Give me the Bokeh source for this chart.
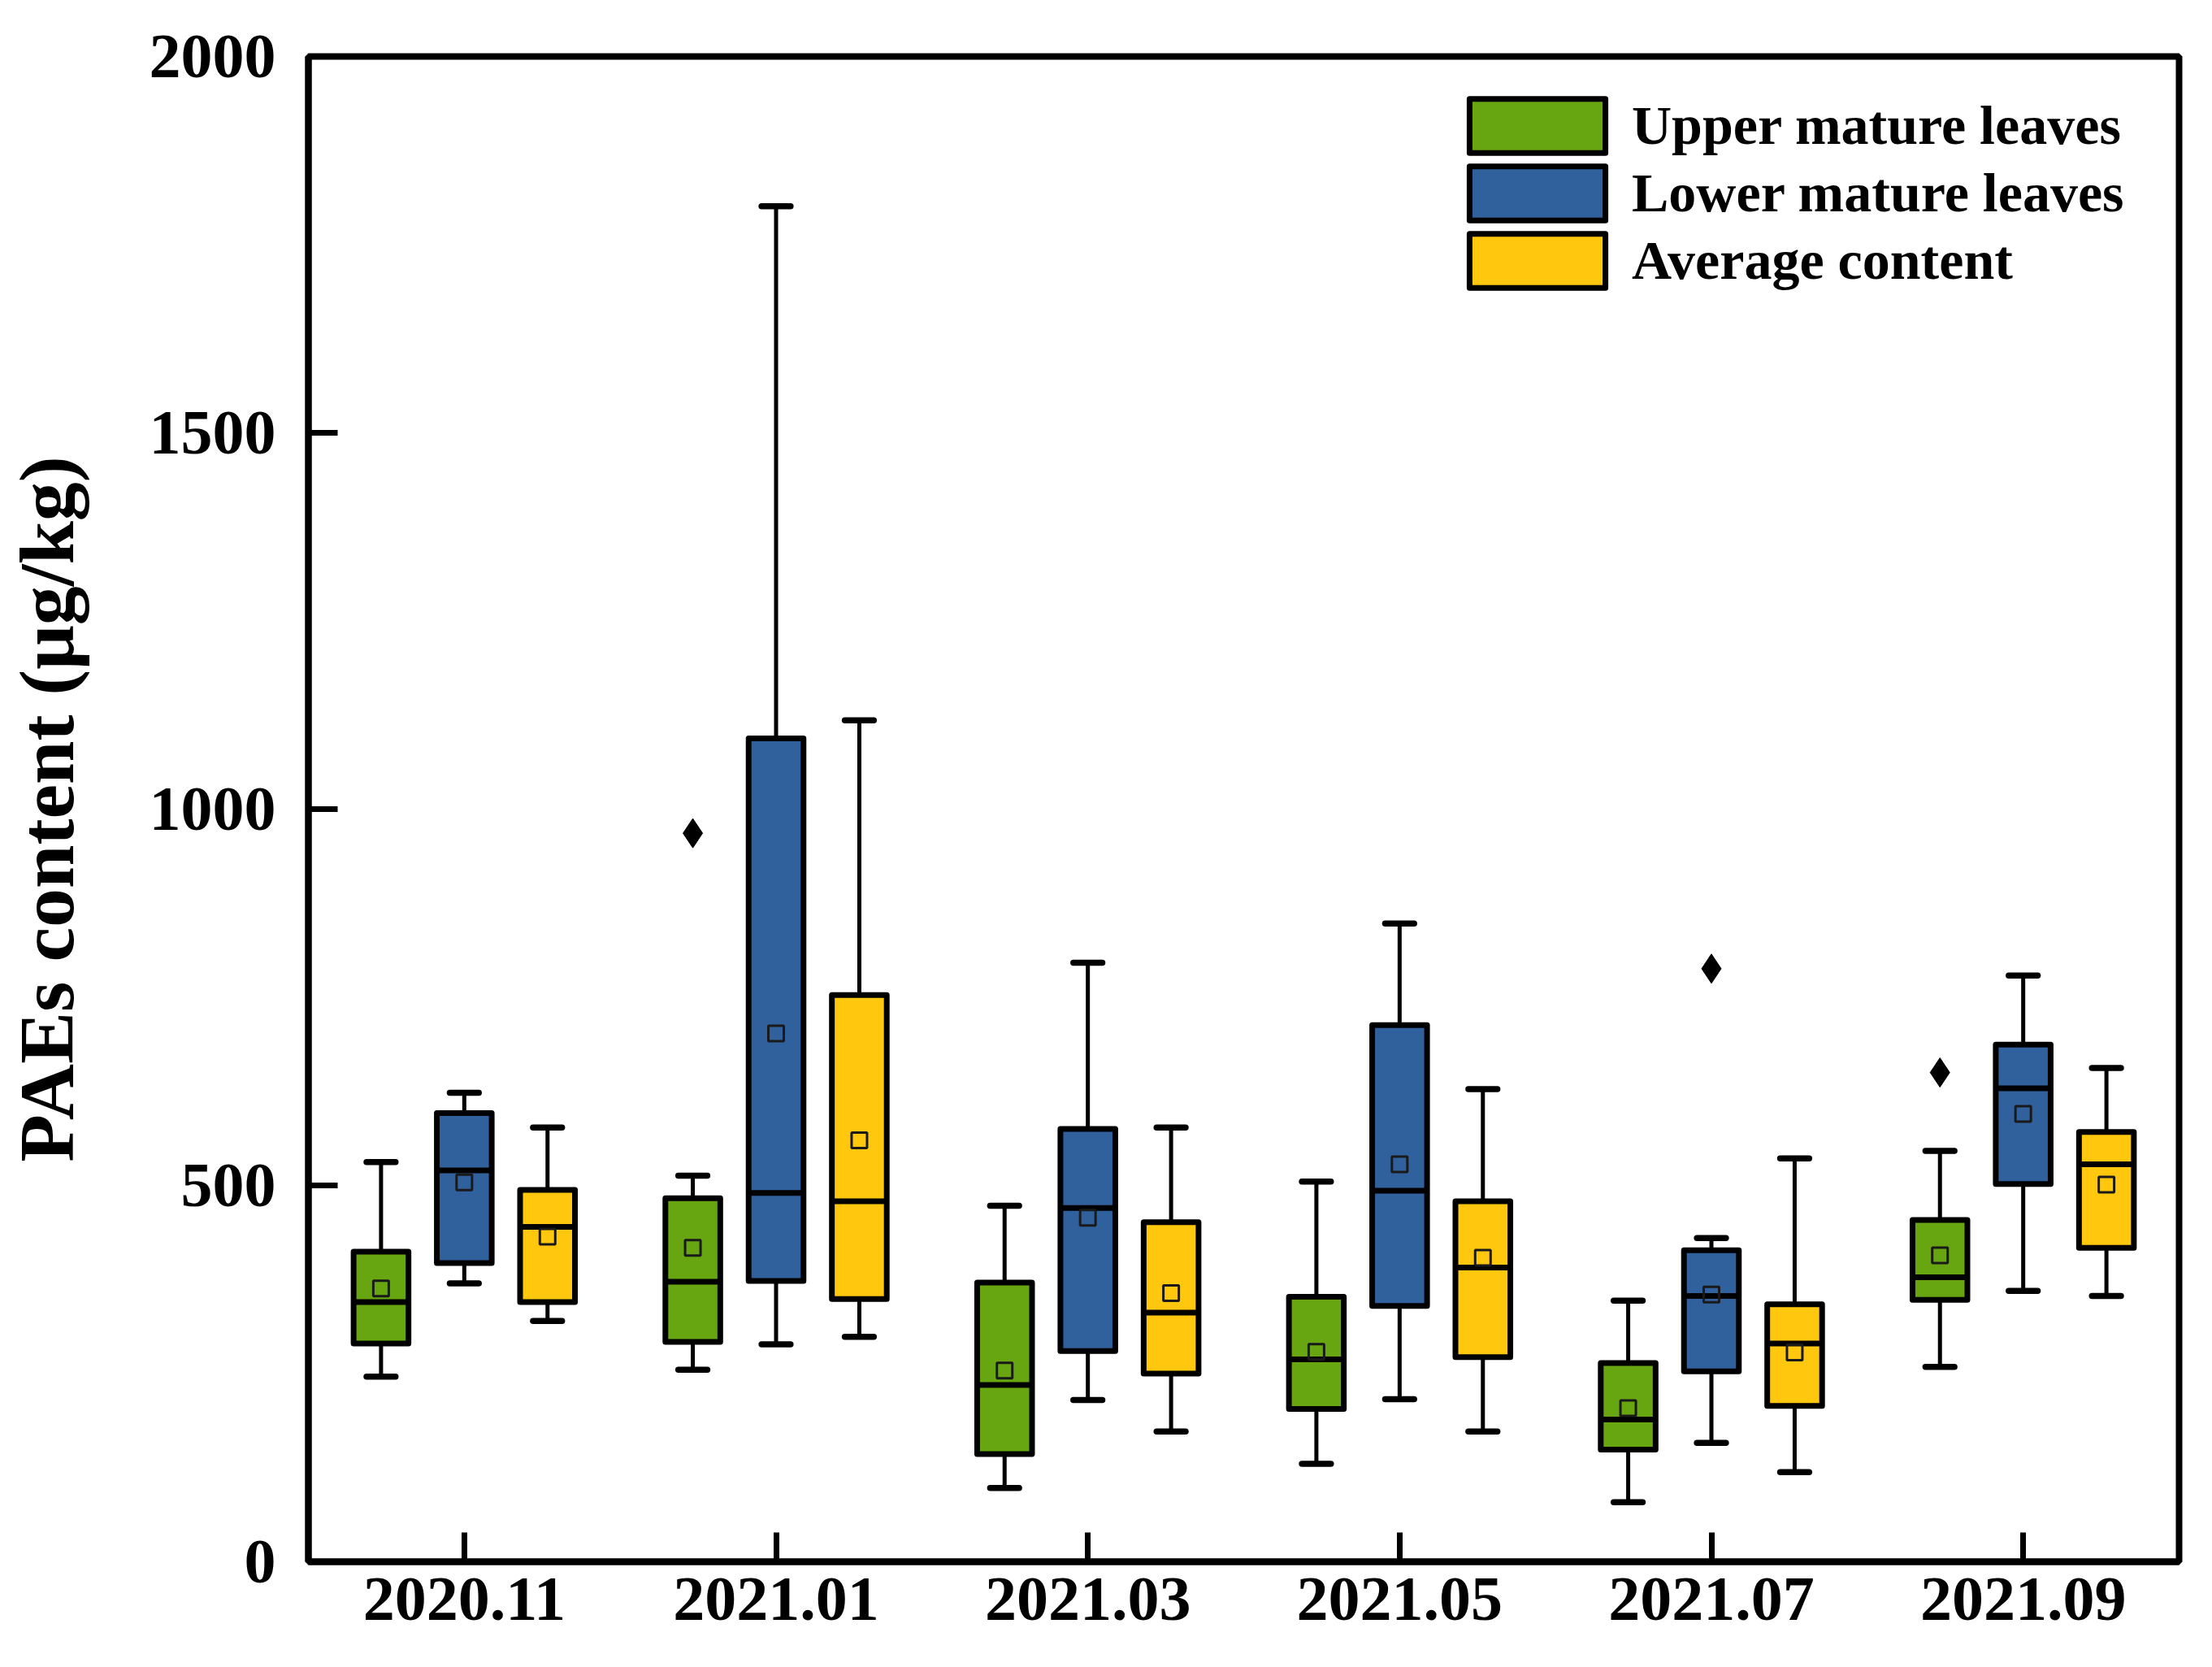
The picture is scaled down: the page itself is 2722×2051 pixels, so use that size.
from bokeh.plotting import figure
from bokeh.models import FixedTicker, Legend, LegendItem, Range1d, ColumnDataSource
from bokeh.embed import file_html
from bokeh.resources import INLINE

months = ["2020.11", "2021.01", "2021.03", "2021.05", "2021.07", "2021.09"]

# Upper mature leaves
upper_wlo = [246, 255, 98, 130, 79, 259]
upper_q1 = [290, 292, 143, 203, 149, 348]
upper_med = [345, 372, 235, 269, 189, 378]
upper_q3 = [412, 483, 371, 352, 264, 454]
upper_whi = [531, 513, 473, 505, 347, 546]
upper_mean = [363, 417, 254, 279, 204, 407]
upper_out_month = ["2021.01", "2021.09"]
upper_out_val = [968, 650]

# Lower mature leaves
lower_wlo = [370, 289, 215, 216, 158, 360]
lower_q1 = [397, 373, 280, 340, 253, 502]
lower_med = [520, 490, 470, 493, 353, 629]
lower_q3 = [596, 1094, 575, 713, 414, 687]
lower_whi = [623, 1801, 796, 848, 430, 779]
lower_mean = [504, 702, 457, 528, 355, 595]
lower_out_month = ["2021.07"]
lower_out_val = [788]

# Average content
avg_wlo = [320, 299, 173, 173, 119, 353]
avg_q1 = [345, 349, 250, 272, 207, 417]
avg_med = [445, 479, 331, 391, 290, 528]
avg_q3 = [494, 753, 451, 479, 342, 571]
avg_whi = [577, 1118, 577, 628, 536, 656]
avg_mean = [432, 560, 357, 404, 278, 501]
avg_out_month = []
avg_out_val = []

series_names = ["Upper mature leaves", "Lower mature leaves", "Average content"]
colors = ["#68A611", "#30619D", "#FFC70D"]

FONT = "Liberation Serif"
BOX_W = 0.176
CAP_W = 0.093
OFFSETS = [-0.267, 0.0, 0.267]

p = figure(frame_width=2302, frame_height=1852,
           x_range=Range1d(-0.5, 5.5), y_range=Range1d(0, 2000),
           output_backend="svg", toolbar_location=None,
           min_border_left=372, min_border_top=69,
           min_border_right=14, min_border_bottom=110,
           background_fill_color="white", border_fill_color="white")

p.xgrid.visible = False
p.ygrid.visible = False
p.outline_line_color = "black"
p.outline_line_width = 8
p.outline_line_alpha = 1

p.xaxis.ticker = FixedTicker(ticks=list(range(len(months))))
p.xaxis.major_label_overrides = {i: m for i, m in enumerate(months)}
p.yaxis.ticker = FixedTicker(ticks=[0, 500, 1000, 1500, 2000])

for ax in (p.xaxis[0], p.yaxis[0]):
    ax.axis_line_width = 8
    ax.axis_line_color = "black"
    ax.major_tick_line_width = 7
    ax.major_tick_line_color = "black"
    ax.major_tick_in = 36
    ax.major_tick_out = 0
    ax.minor_tick_in = 0
    ax.minor_tick_out = 0
    ax.major_label_text_font = FONT
    ax.major_label_text_font_style = "bold"
    ax.major_label_text_font_size = "78px"
    ax.major_label_text_color = "black"

p.xaxis.major_label_standoff = 20
p.yaxis.major_label_standoff = 40
p.yaxis.axis_label = "PAEs content (μg/kg)"
p.yaxis.axis_label_text_font = FONT
p.yaxis.axis_label_text_font_style = "bold"
p.yaxis.axis_label_text_font_size = "96px"
p.yaxis.axis_label_text_color = "black"
p.yaxis.axis_label_standoff = 70

all_data = [
    (upper_wlo, upper_q1, upper_med, upper_q3, upper_whi, upper_mean, upper_out_month, upper_out_val),
    (lower_wlo, lower_q1, lower_med, lower_q3, lower_whi, lower_mean, lower_out_month, lower_out_val),
    (avg_wlo, avg_q1, avg_med, avg_q3, avg_whi, avg_mean, avg_out_month, avg_out_val),
]

legend_items = []
for k, (wlo, q1, med, q3, whi, mean, om, ov) in enumerate(all_data):
    xs = [i + OFFSETS[k] for i in range(len(months))]
    src = ColumnDataSource(dict(
        x=xs, wlo=wlo, q1=q1, med=med, q3=q3, whi=whi, mean=mean,
        bl=[x - BOX_W / 2 for x in xs], br=[x + BOX_W / 2 for x in xs],
        cl=[x - CAP_W / 2 for x in xs], cr=[x + CAP_W / 2 for x in xs],
    ))
    # whisker stems
    p.segment(x0="x", y0="q3", x1="x", y1="whi", source=src, line_color="black", line_width=5)
    p.segment(x0="x", y0="q1", x1="x", y1="wlo", source=src, line_color="black", line_width=5)
    # caps
    p.segment(x0="cl", y0="whi", x1="cr", y1="whi", source=src, line_color="black",
              line_width=7.5, line_cap="round")
    p.segment(x0="cl", y0="wlo", x1="cr", y1="wlo", source=src, line_color="black",
              line_width=7.5, line_cap="round")
    # boxes
    r = p.vbar(x="x", width=BOX_W, bottom="q1", top="q3", source=src,
               fill_color=colors[k], line_color="black", line_width=7, line_join="round")
    legend_items.append(LegendItem(label=series_names[k], renderers=[r]))
    # medians
    p.segment(x0="bl", y0="med", x1="br", y1="med", source=src, line_color="black", line_width=7)
    # means
    p.scatter(x="x", y="mean", source=src, marker="square", size=19,
              fill_alpha=0, line_color="#1a1a1a", line_width=3)
    # outliers
    if ov:
        osrc = ColumnDataSource(dict(x=[months.index(m) + OFFSETS[k] for m in om], y=ov))
        p.scatter(x="x", y="y", source=osrc, marker="diamond", size=36,
                  fill_color="black", line_color="black")

legend = Legend(items=legend_items, location=(1408, 1559))
legend.glyph_width = 209
legend.glyph_height = 83
legend.label_height = 83
legend.spacing = 0
legend.padding = 0
legend.margin = 0
legend.label_standoff = 12
legend.border_line_alpha = 0
legend.background_fill_alpha = 0
legend.label_text_font = FONT
legend.label_text_font_style = "bold"
legend.label_text_font_size = "68px"
legend.label_text_color = "black"
p.add_layout(legend)

open("out.html", "w").write(file_html(p, INLINE))
